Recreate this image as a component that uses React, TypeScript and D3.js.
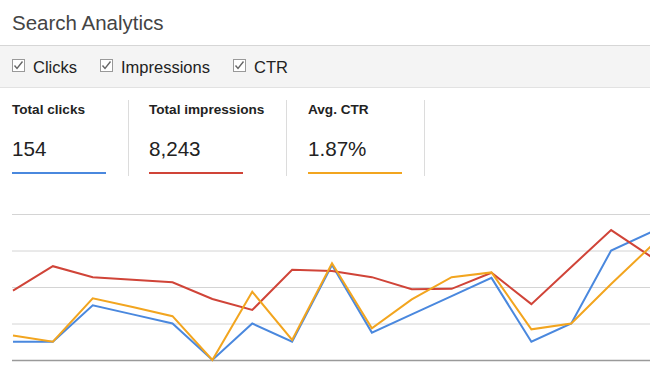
import React, { useRef, useEffect } from "react";
import * as d3 from "d3";

// daily values
const days = d3.range(17).map((d) => `d${d + 1}`);
const clicks = [2, 2, 6, 5, 4, 0, 4, 2, 10.4, 3, 5, 7, 9, 2, 4, 12, 14];
const impressions = [380, 514, 454, 440, 426, 334, 274, 494, 488, 454, 388, 390, 478, 306, 510, 712, 566];
const ctr = [0.67, 0.5, 1.69, 1.45, 1.2, 0, 1.87, 0.55, 2.65, 0.87, 1.66, 2.27, 2.4, 0.84, 1.0, 2.08, 3.12];

const checkLabels = ["Clicks", "Impressions", "CTR"];
const statLabels = ["Total clicks", "Total impressions", "Avg. CTR"];
const statValues = ["154", "8,243", "1.87%"];
const gridTicks = [0, 1, 2, 3, 4];

const BLUE = "#4a88de";
const RED = "#d04438";
const ORANGE = "#f2a51f";

const App = () => {
  const svgRef = useRef<SVGSVGElement | null>(null);

  useEffect(() => {
    document.body.style.margin = "0";
    const svg = d3.select(svgRef.current);
    svg.selectAll("*").remove();
    const width = 650;
    const height = 367;
    const font = "'Liberation Sans', Arial, sans-serif";

    svg.append("rect").attr("width", width).attr("height", height).attr("fill", "#fff");

    // title
    svg
      .append("text")
      .attr("x", 12)
      .attr("y", 30)
      .attr("font-family", font)
      .attr("font-size", 20.5)
      .attr("fill", "#444")
      .text("Search Analytics");

    // checkbox band
    svg.append("rect").attr("x", 0).attr("y", 45).attr("width", width).attr("height", 42).attr("fill", "#f4f4f4");
    svg.append("line").attr("x1", 0).attr("x2", width).attr("y1", 45.5).attr("y2", 45.5).attr("stroke", "#d6d6d6");
    svg.append("line").attr("x1", 0).attr("x2", width).attr("y1", 87.5).attr("y2", 87.5).attr("stroke", "#e2e2e2");

    const checkX = [12, 100, 233];
    checkLabels.forEach((label, i) => {
      const g = svg.append("g").attr("transform", `translate(${checkX[i]},59)`);
      g.append("rect")
        .attr("x", 0.5)
        .attr("y", 0.5)
        .attr("width", 12)
        .attr("height", 12)
        .attr("fill", "#fff")
        .attr("stroke", "#999");
      g.append("path")
        .attr("d", "M2.5,6.5 L5,9.5 L10.5,2.5")
        .attr("fill", "none")
        .attr("stroke", "#666")
        .attr("stroke-width", 1.4);
      g.append("text")
        .attr("x", 21)
        .attr("y", 13.5)
        .attr("font-family", font)
        .attr("font-size", 16.5)
        .attr("fill", "#222")
        .text(label);
    });

    // summary stats
    const statX = [12, 149, 308];
    const statColors = [BLUE, RED, ORANGE];
    statLabels.forEach((label, i) => {
      svg
        .append("text")
        .attr("x", statX[i])
        .attr("y", 114)
        .attr("font-family", font)
        .attr("font-size", 13.6)
        .attr("font-weight", "bold")
        .attr("fill", "#222")
        .text(label);
      svg
        .append("text")
        .attr("x", statX[i])
        .attr("y", 156)
        .attr("font-family", font)
        .attr("font-size", 20.6)
        .attr("fill", "#222")
        .text(statValues[i]);
      svg
        .append("rect")
        .attr("x", statX[i])
        .attr("y", 172)
        .attr("width", 94)
        .attr("height", 2)
        .attr("fill", statColors[i]);
    });
    [128, 286, 424].forEach((x) => {
      svg
        .append("line")
        .attr("x1", x + 0.5)
        .attr("x2", x + 0.5)
        .attr("y1", 100)
        .attr("y2", 176)
        .attr("stroke", "#dcdcdc");
    });

    // chart
    const top = 214;
    const bottom = 360;
    const xScale = d3.scalePoint().domain(days).range([13, 651]);
    const grid = d3.scaleLinear().domain([0, 4]).range([bottom, top]);

    gridTicks.forEach((t) => {
      svg
        .append("line")
        .attr("x1", 12)
        .attr("x2", width)
        .attr("y1", grid(t) + 0.5)
        .attr("y2", grid(t) + 0.5)
        .attr("stroke", t === 0 ? "#9a9a9a" : "#d4d4d4")
        .attr("stroke-width", t === 0 ? 1.5 : 1);
    });

    const series = [
      { values: impressions, max: 800, color: RED },
      { values: ctr, max: 4, color: ORANGE },
      { values: clicks, max: 16, color: BLUE },
    ];
    svg
      .append("clipPath")
      .attr("id", "plot-clip")
      .append("rect")
      .attr("x", 12)
      .attr("y", 200)
      .attr("width", width - 12)
      .attr("height", 167);

    // blue underneath, then red, orange on top
    const order = [2, 0, 1];
    order.forEach((k) => {
      const s = series[k];
      const yScale = d3.scaleLinear().domain([0, s.max]).range([bottom, top]);
      const line = d3
        .line<number>()
        .x((_, i) => xScale(days[i]) as number)
        .y((d) => yScale(d));
      svg
        .append("path")
        .attr("clip-path", "url(#plot-clip)")
        .attr("d", line(s.values))
        .attr("fill", "none")
        .attr("stroke", s.color)
        .attr("stroke-width", 2);
    });
  }, []);

  return <svg ref={svgRef} width={650} height={367} style={{ display: "block" }}></svg>;
};

export default App;
